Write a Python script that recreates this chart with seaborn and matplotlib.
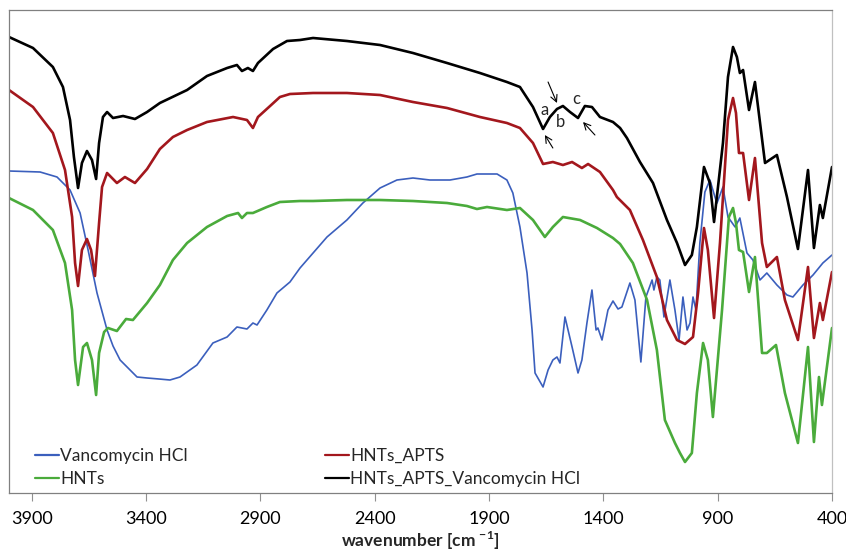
import numpy as np
import pandas as pd
import seaborn as sns
import matplotlib
matplotlib.use("Agg")
import matplotlib.pyplot as plt

# FTIR spectra, transmittance in arbitrary units
wn_vanco = [4000, 3864, 3790, 3733, 3689, 3654, 3615, 3571, 3545, 3514, 3440, 3396, 3344, 3296, 3252,
            3178, 3108, 3046, 3003, 2981, 2959, 2933, 2915, 2872, 2828, 2771, 2727, 2609, 2522,
            2452, 2377, 2303, 2233, 2159, 2071, 1997, 1953, 1865, 1822, 1796, 1765, 1734, 1712,
            1699, 1664, 1642, 1621, 1603, 1590, 1568, 1537, 1511, 1494, 1472, 1450, 1432, 1424,
            1406, 1380, 1358, 1336, 1319, 1284, 1262, 1236, 1214, 1187, 1179, 1166, 1153, 1135,
            1109, 1087, 1069, 1052, 1034, 1021, 1008, 995, 978, 956, 934, 912, 903, 877, 855,
            824, 803, 772, 746, 715, 685, 641, 597, 571, 527, 483, 440, 400]
t_vanco = [322, 321, 316, 303, 280, 243, 200, 163, 147, 133, 116, 115, 114, 113, 116,
           128, 150, 156, 166, 165, 164, 170, 168, 183, 200, 211, 225, 256, 273,
           290, 305, 313, 315, 313, 313, 316, 319, 319, 313, 300, 266, 220, 163,
           120, 106, 123, 133, 136, 130, 176, 146, 120, 133, 170, 203, 163, 165,
           153, 183, 192, 184, 186, 210, 193, 131, 196, 213, 203, 216, 213, 176,
           213, 183, 153, 196, 163, 170, 196, 183, 250, 301, 313, 296, 290, 306, 276,
           266, 275, 240, 233, 213, 220, 208, 198, 196, 208, 218, 230, 238]

wn_hnt = [4000, 3895, 3808, 3755, 3724, 3711, 3698, 3676, 3659, 3637, 3619, 3606, 3584, 3567,
          3528, 3488, 3458, 3396, 3340, 3283, 3221, 3134, 3046, 2998, 2981, 2959, 2933, 2872,
          2815, 2727, 2670, 2522, 2377, 2233, 2084, 1997, 1953, 1909, 1822, 1765, 1708, 1656,
          1621, 1577, 1502, 1428, 1358, 1327, 1271, 1209, 1166, 1131, 1087, 1065, 1043, 1013,
          991, 964, 943, 921, 881, 851, 833, 820, 807, 789, 763, 737, 706, 685, 645, 606, 549,
          505, 479, 457, 444, 400]
t_hnt = [295, 283, 263, 230, 183, 133, 108, 146, 150, 133, 98, 140, 161, 165,
         162, 174, 173, 190, 208, 233, 250, 266, 277, 280, 275, 280, 280, 286,
         291, 292, 292, 293, 293, 292, 290, 287, 284, 286, 283, 285, 273, 256,
         266, 276, 273, 265, 255, 249, 230, 193, 143, 73, 50, 40, 31, 40,
         100, 150, 133, 76, 183, 276, 285, 270, 243, 241, 201, 236, 140, 140, 148, 100, 50,
         146, 51, 116, 88, 165]

wn_apts = [4000, 3895, 3808, 3755, 3724, 3711, 3698, 3681, 3659, 3641, 3624, 3606, 3593, 3571,
           3528, 3493, 3449, 3396, 3340, 3283, 3221, 3134, 3020, 2959, 2933, 2911, 2858, 2815,
           2771, 2670, 2522, 2377, 2233, 2084, 1940, 1822, 1765, 1708, 1664, 1621, 1577, 1537,
           1494, 1467, 1415, 1358, 1341, 1284, 1227, 1166, 1122, 1078, 1043, 1008, 986, 960,
           943, 916, 890, 855, 833, 820, 807, 789, 763, 737, 706, 685, 641, 606, 549, 505, 479,
           453, 440, 400]
t_apts = [403, 386, 360, 323, 276, 230, 207, 243, 254, 243, 217, 270, 306, 320,
          310, 316, 310, 324, 344, 356, 363, 371, 376, 373, 365, 376, 387, 396,
          399, 400, 400, 398, 391, 385, 376, 370, 365, 350, 329, 331, 328, 331,
          325, 329, 321, 303, 296, 283, 253, 216, 173, 153, 149, 156, 200, 265,
          243, 175, 250, 373, 395, 380, 340, 340, 293, 335, 250, 226, 236, 193, 153, 226, 155,
          190, 173, 221]

wn_apts_v = [4000, 3895, 3808, 3764, 3733, 3716, 3698, 3681, 3659, 3637, 3619, 3606, 3589, 3571,
             3545, 3501, 3449, 3396, 3340, 3221, 3134, 3046, 3003, 2981, 2955, 2933, 2911, 2845,
             2784, 2727, 2670, 2522, 2377, 2233, 2084, 1940, 1822, 1765, 1708, 1664, 1634, 1603,
             1577, 1546, 1511, 1481, 1450, 1415, 1358, 1327, 1297, 1240, 1183, 1122, 1078, 1043,
             1013, 991, 960, 934, 916, 877, 855, 833, 816, 803, 789, 763, 737, 693, 641, 597, 549,
             505, 479, 453, 440, 400]
t_apts_v = [456, 445, 426, 406, 373, 336, 305, 330, 342, 333, 314, 350, 376, 381,
            375, 377, 374, 381, 390, 403, 417, 425, 428, 422, 425, 422, 430, 444,
            452, 453, 455, 452, 448, 440, 430, 420, 411, 406, 386, 364, 376, 384,
            387, 381, 375, 387, 386, 376, 371, 365, 355, 331, 310, 273, 250, 228,
            238, 266, 326, 310, 271, 350, 416, 446, 436, 420, 423, 383, 411, 330, 338, 296, 244,
            323, 245, 288, 275, 326]

names = ["Vancomycin HCl", "HNTs", "HNTs_APTS", "HNTs_APTS_Vancomycin HCl"]
colors = ["#3b5fbd", "#4aab3b", "#a3171d", "#000000"]
widths = [1.2, 1.9, 1.9, 1.9]

frames = []
for name, wn, t in zip(names, [wn_vanco, wn_hnt, wn_apts, wn_apts_v],
                       [t_vanco, t_hnt, t_apts, t_apts_v]):
    frames.append(pd.DataFrame({"wn": wn, "T": t, "sample": name}))
df = pd.concat(frames, ignore_index=True)

sns.set_theme(style="white")
plt.rcParams["font.family"] = ["Lato", "DejaVu Sans"]
plt.rcParams["mathtext.fontset"] = "custom"
plt.rcParams["mathtext.bf"] = "Lato:bold"
plt.rcParams["mathtext.rm"] = "Lato"

fig = plt.figure(figsize=(8.46, 5.55), dpi=100)
ax = fig.add_axes([9/846, 1-493/555, 823/846, 483/555])

for name, c, lw in zip(names, colors, widths):
    sub = df[df["sample"] == name]
    sns.lineplot(data=sub, x="wn", y="T", color=c, lw=lw, sort=False,
                 estimator=None, ax=ax, label=name)

ax.set_xlim(4000, 400)
ax.set_ylim(0, 483)
ax.set_xticks(np.arange(3900, 399, -500))
ax.set_yticks([])
ax.set_ylabel("")
ax.set_xlabel(r"wavenumber [cm $^{\mathbf{-1}}$]", fontsize=12.5, fontweight="bold", labelpad=2)
ax.tick_params(axis="x", direction="out", length=6, width=0.8, colors="#909090",
               labelcolor="black", labelsize=13, pad=7, bottom=True)
for s in ax.spines.values():
    s.set_color("#808080")
    s.set_linewidth(0.9)
ax.spines["right"].set_color("#c0c0c0")

# peak marks a, b, c
ax.text(1656, 383, "a", fontsize=12, ha="center", va="center")
ax.text(1586, 371, "b", fontsize=12, ha="center", va="center")
ax.text(1520, 394, "c", fontsize=12, ha="center", va="center")
arrows = [((1642, 411), (1603, 390)), ((1621, 345), (1656, 358)), ((1437, 358), (1489, 371))]
for tail, head in arrows:
    ax.annotate("", xy=head, xytext=tail,
                arrowprops=dict(arrowstyle="->", lw=0.8, color="black", shrinkA=0, shrinkB=0))

handles, labels = ax.get_legend_handles_labels()
leg = ax.legend(handles, labels, ncol=2, loc="lower left", bbox_to_anchor=(0.0316, 0.012),
                frameon=False, fontsize=12.5, handlelength=1.4, handletextpad=0.05,
                columnspacing=7.9, labelspacing=0.42, borderpad=0, borderaxespad=0)
for h in leg.legend_handles:
    h.set_linewidth(1.6)

fig.savefig("out.png", dpi=100)
